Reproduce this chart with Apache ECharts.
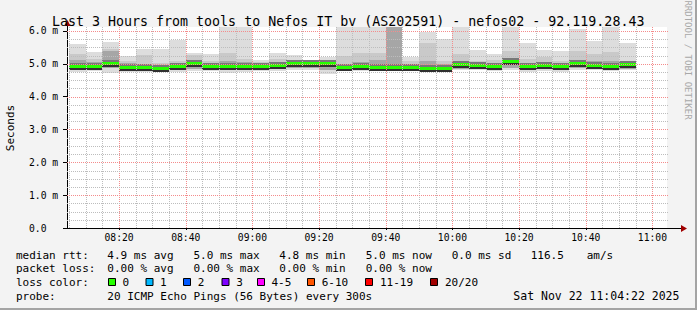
<!DOCTYPE html>
<html><head><meta charset="utf-8">
<script src="https://cdn.jsdelivr.net/npm/echarts@6/dist/echarts.min.js"></script>
<style>html,body{margin:0;padding:0;background:#f3f3f3;}#c{width:697px;height:310px;}</style>
</head><body><div id="c"></div>
<script>
// ---------------- data ----------------
const titleText = 'Last 3 Hours from tools to Nefos IT bv (AS202591) - nefos02 - 92.119.28.43';
const windowStart = '08:04:22';
const windowEnd = '11:04:22';
const stepMinutes = 5;
const slotStart = ['08:05','08:10','08:15','08:20','08:25','08:30','08:35','08:40','08:45','08:50',
  '08:55','09:00','09:05','09:10','09:15','09:20','09:25','09:30','09:35','09:40',
  '09:45','09:50','09:55','10:00','10:05','10:10','10:15','10:20','10:25','10:30',
  '10:35','10:40','10:45','10:50'];
// ms values
const pingMax   = [5.60,5.37,5.66,5.24,5.45,5.46,5.73,5.33,5.30,6.20,6.20,5.12,5.34,5.27,5.10,5.22,6.20,6.20,6.20,6.20,5.20,5.98,5.74,6.20,5.41,5.30,6.20,5.62,5.42,5.38,6.06,5.70,6.20,5.62];
const band2Top  = [5.29,5.14,5.44,5.10,5.28,5.02,5.10,5.27,5.09,5.34,5.14,5.04,5.15,5.12,5.05,5.06,5.25,5.32,5.34,6.20,5.08,5.64,5.10,5.30,5.10,5.12,5.40,5.15,5.20,5.10,5.40,5.30,5.35,5.10];
const band3Top  = [5.12,5.05,5.40,5.02,5.00,4.96,5.00,5.03,5.00,5.10,5.05,5.00,5.02,5.05,5.02,5.02,5.00,5.05,5.12,6.20,5.00,5.10,5.00,5.10,5.02,5.00,5.15,5.02,5.05,5.00,5.10,5.10,5.10,5.00];
const medianRtt = [4.89,4.91,4.99,4.86,4.88,4.83,4.89,4.99,4.91,4.91,4.91,4.91,4.94,4.99,4.99,4.99,4.86,4.91,4.86,4.88,4.88,4.85,4.85,4.97,4.93,4.91,5.04,4.90,4.93,4.90,5.00,4.94,4.91,4.97];
const innerLow  = [4.80,4.82,4.86,4.79,4.80,4.78,4.80,4.84,4.82,4.80,4.82,4.84,4.84,4.86,4.86,4.80,4.80,4.83,4.80,4.81,4.81,4.79,4.79,4.85,4.84,4.82,4.88,4.81,4.83,4.81,4.86,4.84,4.82,4.85];
const pingMin   = [4.76,4.78,4.72,4.75,4.74,4.75,4.74,4.78,4.77,4.72,4.76,4.78,4.79,4.80,4.80,4.68,4.77,4.79,4.77,4.78,4.77,4.76,4.77,4.80,4.80,4.78,4.82,4.76,4.78,4.76,4.80,4.80,4.78,4.80];
const yTickValues = [0,1,2,3,4,5,6];
const xTickLabels = ['08:20','08:40','09:00','09:20','09:40','10:00','10:20','10:40','11:00'];
const lossLabels = ['0','1','2','3','4-5','6-10','11-19','20/20'];
const lossColors = ['#26ff00','#00b8ff','#0059ff','#7e00ff','#ff00ff','#ff5500','#ff0000','#a10000'];
const statsLine1 = ['median rtt:','4.9 ms avg','5.0 ms max','4.8 ms min','5.0 ms now','0.0 ms sd','116.5','am/s'];
const statsLine2 = ['packet loss:','0.00 % avg','0.00 % max','0.00 % min','0.00 % now'];
const probeLine = ['probe:','20 ICMP Echo Pings (56 Bytes) every 300s','Sat Nov 22 11:04:22 2025'];

// ---------------- layout / style ----------------
const W = 697, H = 310;
const G = {left:67, top:27, right:30, bottom:82};
const Y_MAX = 6.12;
const MONO = '"DejaVu Sans Mono", monospace';
const toMin = s => { const p = s.split(':').map(Number); return p[0]*60 + p[1] + (p[2]||0)/60; };
const X_MIN = toMin(windowStart), X_MAX = toMin(windowEnd);

const slots = slotStart.map((t,i)=>[toMin(t), toMin(t)+stepMinutes, pingMin[i], innerLow[i], medianRtt[i], band3Top[i], band2Top[i], pingMax[i]]);

function renderSlot(params, api){
  const t0 = api.value(0), t1 = api.value(1);
  const clipV = v => Math.min(v, Y_MAX);
  const py = v => Math.round(api.coord([t0, clipV(v)])[1]);
  const xL = Math.round(api.coord([t0,0])[0]), xR = Math.round(api.coord([t1,0])[0]);
  const w = xR - xL;
  const band = (lo, hi, fill) => ({type:'rect', shape:{x:xL, y:py(hi), width:w, height:py(lo)-py(hi)}, style:{fill}});
  const ym = py(api.value(4));
  return {type:'group', children:[
    band(api.value(2), api.value(7), '#dddddd'),
    band(api.value(3), api.value(6), '#c9c9c9'),
    band(api.value(3), api.value(5), '#a6a6a6'),
    {type:'rect', shape:{x:xL, y:ym-4, width:w, height:3}, style:{fill:'#787878'}},
    {type:'rect', shape:{x:xL, y:ym+1, width:w, height:2}, style:{fill:'#303030'}},
    {type:'rect', shape:{x:xL, y:ym-2, width:w, height:3}, style:{fill:lossColors[0]}}
  ]};
}

// grid lines (drawn on top of the smoke, snapped to pixels)
const MINOR_C = '#bdbdbd', MAJOR_C = '#f48c8c';
const majorX = xTickLabels.map(toMin);
const vLines = [];
for (let m = Math.ceil(X_MIN/5)*5; m <= X_MAX; m += 5) vLines.push([m, 0, majorX.indexOf(m) >= 0 ? 1 : 0]);
const hLines = [];
for (let v = 0.25; v <= 6.001; v += 0.25) hLines.push([X_MIN, v, Math.abs(v - Math.round(v)) < 0.01 ? 1 : 0]);

function renderV(params, api){
  const cs = params.coordSys;
  const x = Math.round(api.coord([api.value(0), 0])[0]) + 0.5;
  return {type:'line', shape:{x1:x, y1:cs.y, x2:x, y2:cs.y+cs.height}, silent:true,
    style:{stroke: api.value(2) ? MAJOR_C : MINOR_C, lineWidth:1, lineDash:[1,1]}};
}
function renderH(params, api){
  const cs = params.coordSys;
  const y = Math.round(api.coord([X_MIN, api.value(1)])[1]) + 0.5;
  return {type:'line', shape:{x1:cs.x, y1:y, x2:cs.x+cs.width+2, y2:y}, silent:true,
    style:{stroke: api.value(2) ? MAJOR_C : MINOR_C, lineWidth:1, lineDash:[1,1]}};
}

// graphic: texts, legend, arrows
const T = (x, y, text, extra) => Object.assign({type:'text', x, y, silent:true,
  style:Object.assign({text, font:'11px '+MONO, fill:'#000', align:'left', verticalAlign:'middle', textAlign:'left', textVerticalAlign:'middle'}, extra||{})});
const graphics = [];
const l1x = [16,107.3,193.4,279.3,365.7,451.7,530.7,586.7];
statsLine1.forEach((s,i)=>graphics.push(T(l1x[i],255,s)));
const l2x = [16,107.3,193.4,279.3,365.7];
statsLine2.forEach((s,i)=>graphics.push(T(l2x[i],268.5,s)));
graphics.push(T(16,282,'loss color:'));
const boxX = [108.5,146,183.5,222,257.5,307.5,365.5,430.5];
const labX = [122.6,160,197.8,236.3,271.5,321.7,380,445];
lossLabels.forEach((s,i)=>{
  graphics.push({type:'rect', silent:true, shape:{x:boxX[i], y:278.5, width:7, height:7}, style:{fill:lossColors[i], stroke:'#000', lineWidth:1}});
  graphics.push(T(labX[i],282,s));
});
const l4x = [16,107.3,513.3];
probeLine.forEach((s,i)=>graphics.push(T(l4x[i],296,s, i===2 ? {font:'11.5px '+MONO} : null)));
graphics.push(T(10,128,'Seconds',{align:'center',textAlign:'center'}));
graphics[graphics.length-1].rotation = Math.PI/2;
graphics.push(T(688,60,'RRDTOOL / TOBI OETIKER',{font:'9px '+MONO, fill:'#a8a8a8', align:'center', textAlign:'center'}));
graphics[graphics.length-1].rotation = -Math.PI/2;
// axis extensions + arrows
graphics.push({type:'line', silent:true, shape:{x1:667,y1:228.5,x2:682,y2:228.5}, style:{stroke:'#000',lineWidth:1}});
graphics.push({type:'polygon', silent:true, shape:{points:[[681,225],[681,232],[687,228.5]]}, style:{fill:'#a00000'}});
graphics.push({type:'line', silent:true, shape:{x1:67.5,y1:27,x2:67.5,y2:25}, style:{stroke:'#000',lineWidth:1}});
graphics.push({type:'polygon', silent:true, shape:{points:[[64.5,26],[70.5,26],[67.5,20]]}, style:{fill:'#a00000'}});
// frame shading
graphics.push({type:'rect', silent:true, shape:{x:0,y:H-2,width:W,height:2}, style:{fill:'#a4a4a4'}});
graphics.push({type:'rect', silent:true, shape:{x:W-2,y:0,width:2,height:H}, style:{fill:'#a4a4a4'}});

const chart = echarts.init(document.getElementById('c'), null, {renderer:'svg', width:W, height:H});
chart.setOption({
  animation:false,
  backgroundColor:'#f3f3f3',
  title:{text:titleText, left:47, top:10, textStyle:{fontFamily:MONO, fontSize:13.3, fontWeight:'normal', color:'#000'}},
  grid:{left:G.left, top:G.top, right:G.right, bottom:G.bottom, show:true, backgroundColor:'#ffffff', borderWidth:0, containLabel:false},
  xAxis:{type:'value', min:X_MIN, max:X_MAX,
    axisLine:{show:true, lineStyle:{color:'#000', width:1}},
    axisTick:{show:true, length:2, inside:false, customValues:majorX, lineStyle:{color:'#000'}},
    axisLabel:{show:true, customValues:majorX, margin:4, fontFamily:MONO, fontSize:9.7, color:'#000',
      formatter:v=>{const h=Math.floor(v/60), m=Math.round(v-h*60); return String(h).padStart(2,'0')+':'+String(m).padStart(2,'0');}},
    splitLine:{show:false}},
  yAxis:{type:'value', min:0, max:Y_MAX,
    axisLine:{show:true, lineStyle:{color:'#000', width:1}},
    axisTick:{show:true, length:4, customValues:yTickValues, lineStyle:{color:'#000'}},
    axisLabel:{show:true, customValues:yTickValues, margin:38, align:'left', fontFamily:MONO, fontSize:9.7, color:'#000',
      formatter:v=> v===0 ? '0.0' : v.toFixed(1)+' m'},
    splitLine:{show:false}},
  series:[
    {type:'custom', name:'smoke', data:slots, renderItem:renderSlot, clip:true, z:2,
      encode:{x:[0,1], y:[2,7]}},
    {type:'custom', name:'vgrid', data:vLines, renderItem:renderV, z:3, silent:true, encode:{x:0, y:1}},
    {type:'custom', name:'hgrid', data:hLines, renderItem:renderH, z:3, silent:true, encode:{x:0, y:1}}
  ],
  graphic:graphics
});
</script>
</body></html>
